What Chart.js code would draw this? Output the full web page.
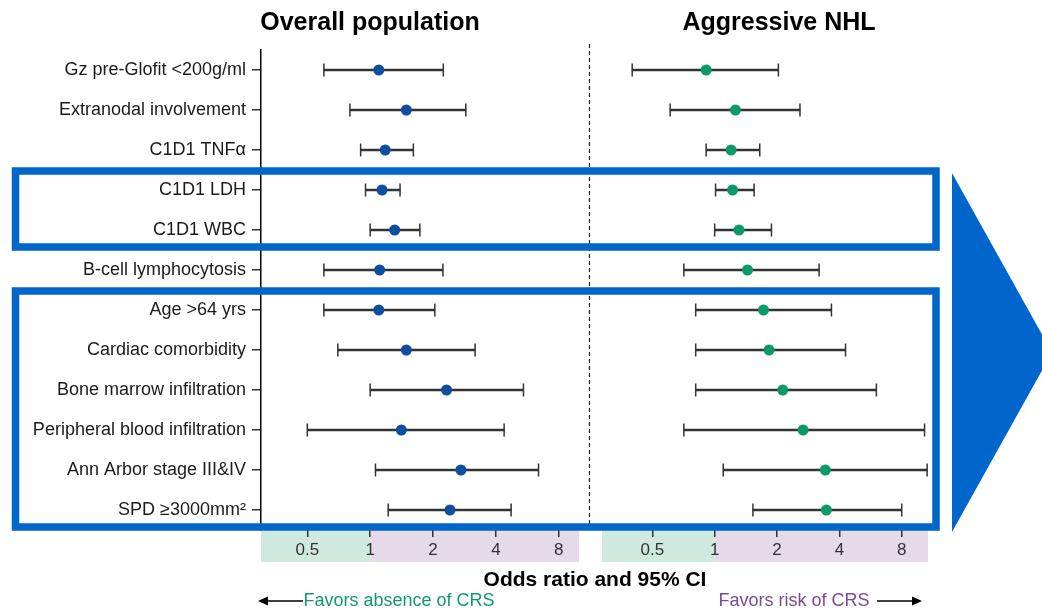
<!DOCTYPE html>
<html>
<head>
<meta charset="utf-8">
<script src="https://cdn.jsdelivr.net/npm/chart.js@4.4.1/dist/chart.umd.min.js"></script>
<style>
  body { margin: 0; background: #fff; }
  #wrap { position: relative; width: 1042px; height: 611px; overflow: hidden; font-family: "Liberation Sans", Arial, sans-serif; }
  #wrap canvas { position: absolute; left: 0; top: 0; }
  .txt { position: absolute; white-space: nowrap; line-height: 1; transform: translate(-50%, -50%); z-index: 5; }
  .title { font-weight: bold; font-size: 25px; color: #000; }
</style>
</head>
<body>
<div id="wrap">
  <canvas id="overall" width="1042" height="611"></canvas>
  <canvas id="nhl" width="1042" height="611"></canvas>
  <div class="txt title" style="left:370px; top:21px;">Overall population</div>
  <div class="txt title" style="left:779px; top:21px;">Aggressive NHL</div>
  <div class="txt" style="left:595px; top:578px; font-weight:bold; font-size:21px; color:#000;">Odds ratio and 95% CI</div>
  <div class="txt" style="left:399px; top:600px; font-size:18px; color:#139a6a;">Favors absence of CRS</div>
  <div class="txt" style="left:794px; top:600px; font-size:18px; color:#7a4c98;">Favors risk of CRS</div>
</div>
<script>
const rowLabels = [
    "Gz pre-Glofit <200g/ml",
    "Extranodal involvement",
    "C1D1 TNFα",
    "C1D1 LDH",
    "C1D1 WBC",
    "B-cell lymphocytosis",
    "Age >64 yrs",
    "Cardiac comorbidity",
    "Bone marrow infiltration",
    "Peripheral blood infiltration",
    "Ann Arbor stage III&IV",
    "SPD ≥3000mm²"
];

// odds ratios and 95% CI, overall population
const overallOR   = [1.10, 1.49, 1.18, 1.14, 1.31, 1.11, 1.10, 1.49, 2.32, 1.41, 2.72, 2.41];
const overallLow  = [0.60, 0.80, 0.90, 0.95, 1.00, 0.60, 0.60, 0.70, 1.00, 0.50, 1.06, 1.22];
const overallHigh = [2.24, 2.87, 1.61, 1.39, 1.73, 2.23, 2.04, 3.18, 5.42, 4.38, 6.40, 4.73];

// aggressive NHL
const nhlOR   = [0.91, 1.26, 1.20, 1.22, 1.31, 1.44, 1.72, 1.83, 2.13, 2.67, 3.42, 3.46];
const nhlLow  = [0.40, 0.61, 0.91, 1.01, 1.00, 0.71, 0.81, 0.81, 0.81, 0.71, 1.10, 1.53];
const nhlHigh = [2.03, 2.58, 1.65, 1.55, 1.88, 3.19, 3.66, 4.28, 6.03, 10.3, 10.6, 7.99];

const xTicks = [0.5, 1, 2, 4, 8];

// rows framed by the blue boxes (first, last index)
const boxedRows = [[3, 4], [6, 11]];

const FONT = "'Liberation Sans', Arial, sans-serif";

const bandPlugin = {
    id: "bands",
    beforeDraw(chart) {
        const x = chart.scales.x;
        const ctx = chart.ctx;
        const top = chart.chartArea.bottom;
        const one = x.getPixelForValue(1);
        ctx.save();
        ctx.fillStyle = "#cfe9df";
        ctx.fillRect(x.left, top, one - x.left, 32);
        ctx.fillStyle = "#e4dae8";
        ctx.fillRect(one, top, x.right - one, 32);
        ctx.restore();
    }
};

const overlayPlugin = {
    id: "overlay",
    afterDraw(chart) {
        const ctx = chart.ctx;
        const y = chart.scales.y;
        ctx.save();

        // panel separator
        ctx.strokeStyle = "#222";
        ctx.lineWidth = 1.2;
        ctx.setLineDash([4, 3]);
        ctx.beginPath();
        ctx.moveTo(589.5, 44);
        ctx.lineTo(589.5, chart.chartArea.bottom);
        ctx.stroke();
        ctx.setLineDash([]);

        // blue boxes
        ctx.strokeStyle = "#0066cc";
        ctx.lineWidth = 7.5;
        boxedRows.forEach(([a, b]) => {
            const top = y.getPixelForValue(a) - 19;
            const bottom = y.getPixelForValue(b) + 17;
            ctx.strokeRect(15.5, top, 920.5, bottom - top);
        });

        // big arrow on the right
        const t = y.getPixelForValue(boxedRows[0][0]) - 17;
        const b = chart.chartArea.bottom + 2;
        ctx.fillStyle = "#0066cc";
        ctx.beginPath();
        ctx.moveTo(952, t);
        ctx.lineTo(1052, (t + b) / 2);
        ctx.lineTo(952, b);
        ctx.closePath();
        ctx.fill();

        // favors arrows
        ctx.strokeStyle = "#000";
        ctx.fillStyle = "#000";
        ctx.lineWidth = 1.5;
        ctx.beginPath();
        ctx.moveTo(266, 601);
        ctx.lineTo(303, 601);
        ctx.moveTo(877, 601);
        ctx.lineTo(913, 601);
        ctx.stroke();
        ctx.beginPath();
        ctx.moveTo(258, 601);
        ctx.lineTo(268, 596.5);
        ctx.lineTo(268, 605.5);
        ctx.closePath();
        ctx.moveTo(922, 601);
        ctx.lineTo(912, 596.5);
        ctx.lineTo(912, 605.5);
        ctx.closePath();
        ctx.fill();

        ctx.restore();
    }
};

function createPanel(canvas, or, low, high, color, opts) {

    const caps = [];
    rowLabels.forEach((label, i) => {
        caps.push({ x: low[i], y: label });
        caps.push({ x: high[i], y: label });
    });

    return new Chart(canvas, {
        type: "bar",
        data: {
            labels: rowLabels,
            datasets: [
                {
                    type: "line",
                    indexAxis: "y",
                    data: rowLabels.map((label, i) => ({ x: or[i], y: label })),
                    showLine: false,
                    pointStyle: "circle",
                    pointRadius: 5.5,
                    pointBackgroundColor: color,
                    pointBorderWidth: 0,
                    clip: false,
                    order: 0
                },
                {
                    type: "line",
                    indexAxis: "y",
                    data: caps,
                    showLine: false,
                    pointStyle: "line",
                    rotation: 90,
                    pointRadius: 6.5,
                    pointBorderColor: "#333",
                    pointBorderWidth: 1.5,
                    clip: false,
                    order: 1
                },
                {
                    data: rowLabels.map((label, i) => [low[i], high[i]]),
                    backgroundColor: "#333",
                    borderWidth: 0,
                    barThickness: 1.6,
                    order: 2
                }
            ]
        },
        options: {
            indexAxis: "y",
            responsive: false,
            animation: false,
            layout: {
                padding: opts.padding
            },
            plugins: {
                legend: { display: false },
                tooltip: { enabled: false }
            },
            scales: {
                x: {
                    type: "logarithmic",
                    min: opts.min,
                    max: opts.max,
                    afterBuildTicks: scale => {
                        scale.ticks = xTicks.map(v => ({ value: v }));
                    },
                    afterFit: scale => {
                        scale.height = 32;
                    },
                    ticks: {
                        autoSkip: false,
                        maxRotation: 0,
                        padding: 3,
                        color: "#333",
                        font: { family: FONT, size: 17 },
                        callback: value => String(value)
                    },
                    grid: {
                        drawOnChartArea: false,
                        drawTicks: true,
                        tickLength: 7,
                        color: "#333",
                        lineWidth: 1.5
                    },
                    border: { display: false }
                },
                y: {
                    display: opts.showLabels,
                    offset: true,
                    afterFit: scale => {
                        scale.width = opts.yWidth;
                    },
                    ticks: {
                        padding: 6,
                        color: "#1a1a1a",
                        font: { family: FONT, size: 18 }
                    },
                    grid: {
                        offset: false,
                        drawOnChartArea: false,
                        tickLength: 9,
                        color: "#333",
                        lineWidth: 1.5
                    },
                    border: { display: true, color: "#000", width: 1.5 }
                }
            }
        },
        plugins: opts.plugins
    });
}

createPanel(
    document.getElementById("overall"),
    overallOR, overallLow, overallHigh,
    "#0b4f9e",
    {
        padding: { left: 0, right: 463, top: 50, bottom: 49 },
        min: 0.3,
        max: 10,
        showLabels: true,
        yWidth: 261,
        plugins: [bandPlugin]
    }
);

createPanel(
    document.getElementById("nhl"),
    nhlOR, nhlLow, nhlHigh,
    "#0a9a6a",
    {
        padding: { left: 602, right: 114, top: 50, bottom: 49 },
        min: 0.286,
        max: 10.7,
        showLabels: false,
        yWidth: 0,
        plugins: [bandPlugin, overlayPlugin]
    }
);
</script>
</body>
</html>
